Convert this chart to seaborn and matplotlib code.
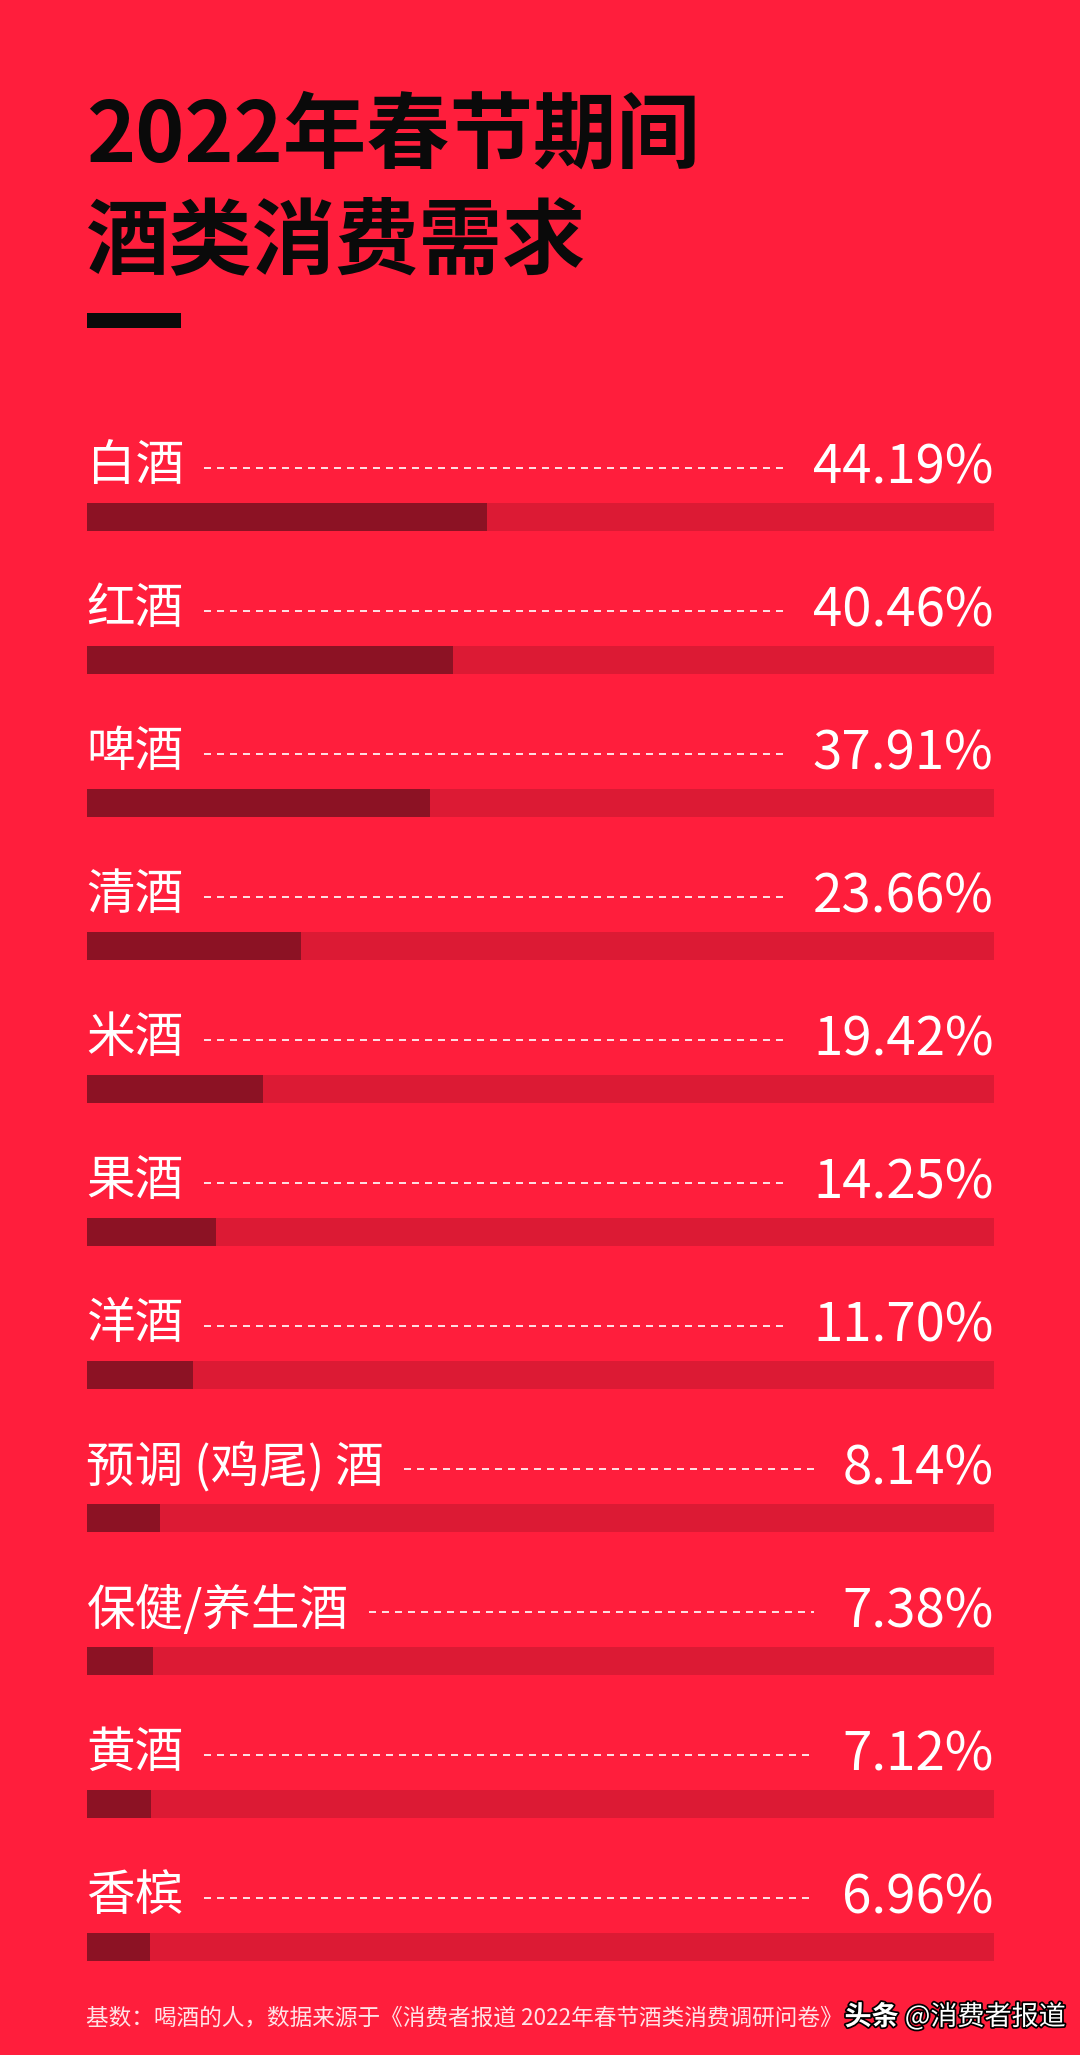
import matplotlib
matplotlib.use("Agg")
import matplotlib.pyplot as plt
import matplotlib.patheffects as pe
from matplotlib.patches import Rectangle
import seaborn as sns

# Data
categories = ["白酒", "红酒", "啤酒", "清酒", "米酒", "果酒", "洋酒",
              "预调 (鸡尾) 酒", "保健/养生酒", "黄酒", "香槟"]
shares = [44.19, 40.46, 37.91, 23.66, 19.42, 14.25, 11.70, 8.14, 7.38, 7.12, 6.96]
full_scale = [100] * len(categories)

title_lines = ["2022年春节期间", "酒类消费需求"]
footnote = "基数：喝酒的人，数据来源于《消费者报道 2022年春节酒类消费调研问卷》"
wm_brand = "头条"
wm_account = "@消费者报道"

# Colours
BG = "#FF1E3C"
TRACK = "#DC1A34"
BAR = "#8C1224"

sns.set_style("white")
plt.rcParams['font.family'] = ['Noto Sans CJK SC', 'DejaVu Sans']

W, H = 1080, 2055
fig = plt.figure(figsize=(W / 100, H / 100), dpi=100, facecolor=BG)

# Title block
fig.text(86 / W, 1 - 137 / H, title_lines[0], fontsize=60, fontweight="bold",
         color="#0A0A0A", va="center", ha="left")
fig.text(86 / W, 1 - 243 / H, title_lines[1], fontsize=60, fontweight="bold",
         color="#0A0A0A", va="center", ha="left")
fig.add_artist(Rectangle((87 / W, 1 - 328 / H), 94 / W, 15 / H,
                         transform=fig.transFigure, color="#0A0A0A", lw=0))

# Bar area: one row every 143 px, first bar centred at y=517 px
row = 143
n = len(categories)
top = 517 - row / 2
ax = fig.add_axes([86.5 / W, 1 - (top + row * n) / H, 907 / W, row * n / H])
ax.set_facecolor("none")

sns.barplot(x=full_scale, y=categories, orient="h", color=TRACK, saturation=1,
            width=0.2, linewidth=0, errorbar=None, ax=ax)
sns.barplot(x=shares, y=categories, orient="h", color=BAR, saturation=1,
            width=0.2, linewidth=0, errorbar=None, ax=ax)
ax.set_xlim(0, 100)
ax.set_ylim(n - 0.5, -0.5)
ax.axis("off")

label_off = 0.353
name_texts, value_texts = [], []
for i, (cat, v) in enumerate(zip(categories, shares)):
    name_texts.append(ax.text(0, i - label_off, cat, ha="left", va="center",
                              fontsize=35, color="white"))
    value_texts.append(ax.text(100, i - label_off + 0.01, f"{v:.2f}%", ha="right",
                               va="center", fontsize=38, color="white",
                               fontweight="light"))

# Dotted leader lines between name and value
renderer = fig.canvas.get_renderer()
inv = ax.transData.inverted()
for i, (nt, vt) in enumerate(zip(name_texts, value_texts)):
    x0_px = nt.get_window_extent(renderer).x1 + 20
    x1_px = min(vt.get_window_extent(renderer).x0 - 28, 815)
    x0 = inv.transform((x0_px, 0))[0]
    x1 = inv.transform((x1_px, 0))[0]
    ax.plot([x0, x1], [i - label_off + 0.01] * 2, color="white", alpha=0.85,
            lw=1.44, ls=(0, (3.5, 3)), solid_capstyle="butt", dash_capstyle="butt")

# Footer
fig.text(86 / W, 1 - 2018 / H, footnote, fontsize=16.3, color="white", alpha=0.88,
         va="center", ha="left")
acc = fig.text(1066 / W, 1 - 2017 / H, wm_account, fontsize=19.5, color="white",
               va="center", ha="right",
               path_effects=[pe.withStroke(linewidth=2.5, foreground="black")])
acc_x0 = acc.get_window_extent(renderer).x0
fig.text((acc_x0 - 6) / W, 1 - 2017 / H, wm_brand, fontsize=19.5, fontweight="bold",
         color="white", va="center", ha="right",
         path_effects=[pe.withStroke(linewidth=2.5, foreground="black")])

fig.savefig("out.png", dpi=100, facecolor=BG)
